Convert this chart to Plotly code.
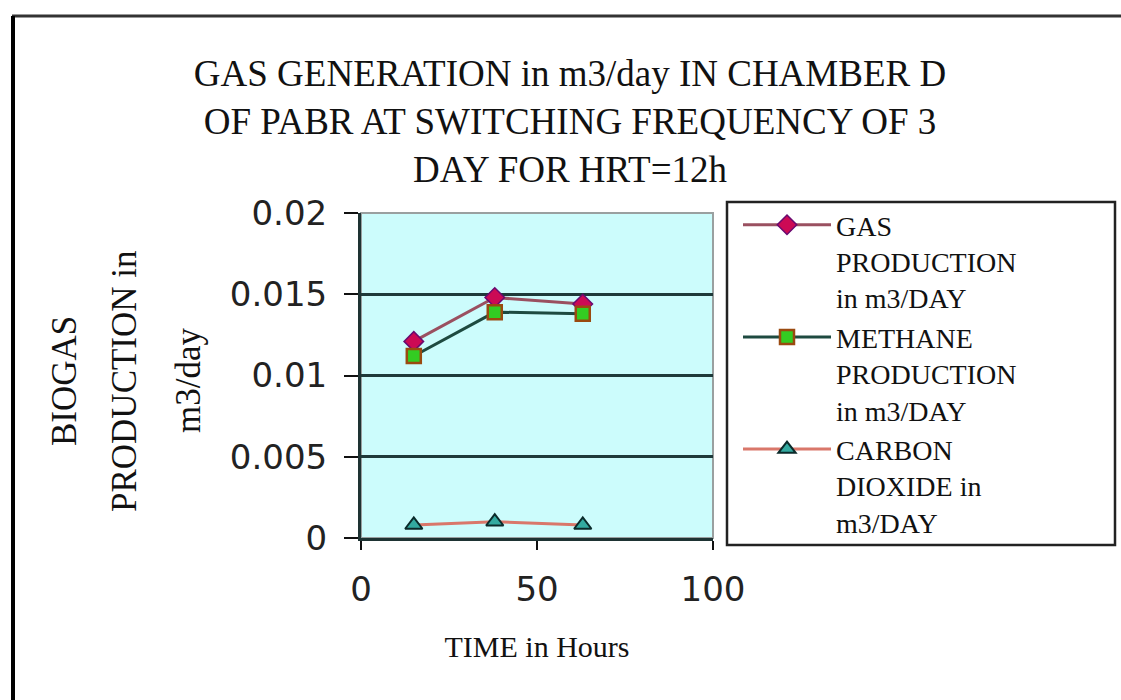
import plotly.graph_objects as go

# ---- data ----
time_hours = [15, 38, 63]
gas_production = [0.0121, 0.0148, 0.0144]
methane_production = [0.0112, 0.0139, 0.0138]
carbon_dioxide = [0.0008, 0.0010, 0.0008]

series_names = [
    "GAS<br>PRODUCTION<br>in m3/DAY",
    "METHANE<br>PRODUCTION<br>in m3/DAY",
    "CARBON<br>DIOXIDE in<br>m3/DAY",
]
x_ticks = [0, 50, 100]
y_ticks = [0, 0.005, 0.01, 0.015, 0.02]

W, H = 1121, 700
L, R, T, B = 361, 713, 213, 538  # plot area in pixels


def px_x(p):
    return (p - L) / (R - L)


def px_y(p):
    return (B - p) / (B - T)


serif = "Liberation Serif"
sans = "DejaVu Sans"

fig = go.Figure()

fig.add_trace(go.Scatter(
    x=time_hours, y=gas_production, name=series_names[0], mode="lines+markers",
    line=dict(color="#9a5060", width=3),
    marker=dict(symbol="diamond", size=15, color="#cc0a55",
                line=dict(color="#6a0a70", width=1.5)),
))
fig.add_trace(go.Scatter(
    x=time_hours, y=methane_production, name=series_names[1], mode="lines+markers",
    line=dict(color="#1e4a40", width=3),
    marker=dict(symbol="square", size=14, color="#33cc22",
                line=dict(color="#9a4a10", width=2.5)),
))
fig.add_trace(go.Scatter(
    x=time_hours, y=carbon_dioxide, name=series_names[2], mode="lines+markers",
    line=dict(color="#d9776a", width=3),
    marker=dict(symbol="triangle-up", size=15, color="#33aaa0",
                line=dict(color="#0a2a2a", width=2)),
))

shapes = [
    # plot-area border (grey top/right)
    dict(type="rect", xref="paper", yref="paper", x0=0, x1=1, y0=0, y1=1,
         line=dict(color="#9aa0a0", width=2), layer="below"),
    # legend box
    dict(type="rect", xref="paper", yref="paper",
         x0=px_x(727), x1=px_x(1115), y0=px_y(545), y1=px_y(202),
         line=dict(color="#222222", width=2.5)),
    # outer frame (top and left edges)
    dict(type="line", xref="paper", yref="paper",
         x0=px_x(12), x1=px_x(1125), y0=px_y(16), y1=px_y(16),
         line=dict(color="#333333", width=3)),
    dict(type="line", xref="paper", yref="paper",
         x0=px_x(13), x1=px_x(13), y0=px_y(16), y1=px_y(705),
         line=dict(color="#000000", width=4)),
]

annotations = []
for text, cx in [("BIOGAS", 64), ("PRODUCTION in", 124), ("m3/day", 188)]:
    annotations.append(dict(
        text=text, xref="paper", yref="paper", x=px_x(cx), y=px_y(381),
        xanchor="center", yanchor="middle", textangle=-90, showarrow=False,
        font=dict(family=serif, size=35, color="#111111"),
    ))

fig.update_layout(
    width=W, height=H,
    margin=dict(l=L, r=W - R, t=T, b=H - B, pad=0),
    paper_bgcolor="white",
    plot_bgcolor="#ccfcfc",
    title=dict(
        text="GAS GENERATION in m3/day IN CHAMBER D<br>OF PABR AT SWITCHING FREQUENCY OF 3<br>DAY FOR HRT=12h",
        x=570 / W, xanchor="center", y=1 - 86 / H, yanchor="middle",
        font=dict(family=serif, size=37, color="#111111"),
    ),
    xaxis=dict(
        range=[0, 100], tickvals=x_ticks, ticks="outside", ticklen=9, tickwidth=2,
        tickcolor="#111111", showline=True, linecolor="#1e3333", linewidth=3,
        showgrid=False, zeroline=False,
        tickfont=dict(family=sans, size=34, color="#222222"),
        ticklabelstandoff=10,
        title=dict(text="TIME in Hours", font=dict(family=serif, size=30, color="#111111"),
                   standoff=29),
    ),
    yaxis=dict(
        range=[0, 0.02], tickvals=y_ticks, ticks="outside", ticklen=14, tickwidth=2,
        tickcolor="#111111", showline=True, linecolor="#1e3333", linewidth=3,
        showgrid=True, gridcolor="#1e3a3a", gridwidth=3, zeroline=False,
        tickfont=dict(family=sans, size=34, color="#222222"),
        ticklabelstandoff=10,
    ),
    legend=dict(
        x=px_x(738), y=px_y(200), xanchor="left", yanchor="top",
        bgcolor="rgba(0,0,0,0)", borderwidth=0,
        font=dict(family=serif, size=28, color="#111111"),
        valign="top", itemwidth=88, tracegroupgap=0,
        maxheight=450,
    ),
    shapes=shapes,
    annotations=annotations,
    showlegend=True,
)

fig.write_html("out.html")
